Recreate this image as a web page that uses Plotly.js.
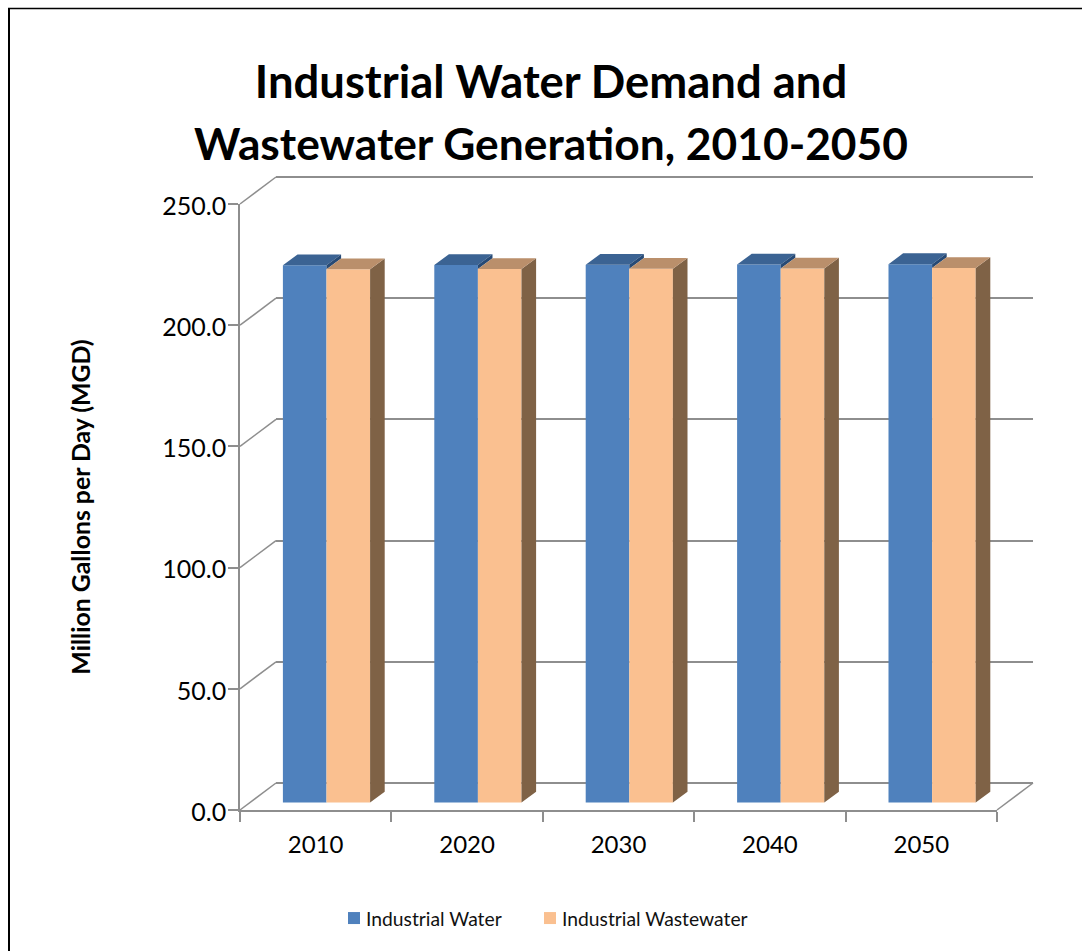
<!DOCTYPE html>
<html>
<head>
<meta charset="utf-8">
<script src="https://cdn.plot.ly/plotly-3.0.1.min.js"></script>
<style>
html,body{margin:0;padding:0;background:#fff;overflow:hidden}
text{font-variant-ligatures:none}
.legendtext,.legend2text{transform:translateX(-8px)}
</style>
</head>
<body>
<div id="chart" style="width:1082px;height:951px"></div>
<script>
// ---- data ----
const years = ["2010", "2020", "2030", "2040", "2050"];
const waterValues = [221.6, 221.7, 221.8, 221.9, 222.1];
const wastewaterValues = [220.0, 220.1, 220.2, 220.3, 220.5];
const valueTicks = [0, 50, 100, 150, 200, 250];

// ---- page geometry (pixels) ----
const W = 1082, H = 951;
const front = {l: 240, r: 997, t: 204, b: 810};
const back = {l: 276, r: 1033, t: 177, b: 783};
const pxPerCat = (front.r - front.l) / years.length;
const pxPerVal = (front.b - front.t) / 250;
const catPerPx = p => p / pxPerCat;
const valPerPx = p => p / pxPerVal;

const barWidth = catPerPx(43.6);
const groupShift = catPerPx(10.8);
const floorBase = valPerPx(7.5);
const depthX = catPerPx(14.6);
const depthY = valPerPx(10.8);
const wallX = catPerPx(back.l - front.l);
const wallY = valPerPx(front.b - back.b);
const edgePad = 4; // px of invisible room around the helper axes

const centers = years.map((_, i) => i + 0.5);
const groupX = centers.map(c => c + groupShift);
const gridColor = "#8E8E8E";
const font = "Lato, Carlito, Calibri, sans-serif";

function polys(build) {
  const xs = [], ys = [];
  years.forEach((_, i) => {
    build(i).forEach(p => { xs.push(p[0]); ys.push(p[1]); });
    xs.push(null); ys.push(null);
  });
  return {x: xs, y: ys};
}
function fillTrace(pts, color) {
  return {type: "scatter", mode: "lines", x: pts.x, y: pts.y, xaxis: "x2", yaxis: "y2",
    fill: "toself", fillcolor: color, line: {width: 0, color: color},
    hoverinfo: "skip", showlegend: false};
}

const waterTop = polys(i => {
  const x0 = groupX[i] - barWidth, x1 = groupX[i], y = waterValues[i] + floorBase;
  return [[x0, y], [x1, y], [x1 + depthX, y + depthY], [x0 + depthX, y + depthY], [x0, y]];
});
const waterSide = polys(i => {
  const x = groupX[i], y = waterValues[i] + floorBase, z = wastewaterValues[i] + floorBase;
  return [[x, y], [x + depthX, y + depthY], [x + depthX, z + depthY], [x, z], [x, y]];
});
const wasteTop = polys(i => {
  const x0 = groupX[i], x1 = groupX[i] + barWidth, y = wastewaterValues[i] + floorBase;
  return [[x0, y], [x1, y], [x1 + depthX, y + depthY], [x0 + depthX, y + depthY], [x0, y]];
});
const wasteSide = polys(i => {
  const x = groupX[i] + barWidth, y = wastewaterValues[i] + floorBase;
  return [[x, y], [x + depthX, y + depthY], [x + depthX, floorBase + depthY], [x, floorBase], [x, y]];
});

// left wall diagonals and right floor edge
const diagX = [], diagY = [];
valueTicks.forEach(v => { diagX.push(0, wallX, null); diagY.push(v, v + wallY, null); });
diagX.push(years.length, years.length + wallX);
diagY.push(0, wallY);

const traces = [
  {type: "scatter", mode: "none", x: [0], y: [0], xaxis: "x", yaxis: "y", hoverinfo: "skip", showlegend: false},
  {type: "scatter", mode: "lines", x: diagX, y: diagY, xaxis: "x3", yaxis: "y3",
    line: {color: gridColor, width: 1.5}, hoverinfo: "skip", showlegend: false},
  {type: "bar", name: "Industrial Water", x: groupX, y: waterValues, base: years.map(() => floorBase),
    width: barWidth, offset: -barWidth, xaxis: "x2", yaxis: "y2", marker: {color: "#4F81BD", line: {width: 0}}, legend: "legend"},
  {type: "bar", name: "Industrial Wastewater", x: groupX, y: wastewaterValues, base: years.map(() => floorBase),
    width: barWidth, offset: 0, xaxis: "x2", yaxis: "y2", marker: {color: "#FAC090", line: {width: 0}}, legend: "legend2"},
  fillTrace(waterTop, "#3B6393"),
  fillTrace(waterSide, "#274A75"),
  fillTrace(wasteSide, "#7F6246"),
  fillTrace(wasteTop, "#BA8F6B")
];

const legendFont = {family: font, size: 19.3, color: "#111"};
const layout = {
  width: W, height: H,
  margin: {l: 0, r: 0, t: 0, b: 0, pad: 0},
  paper_bgcolor: "#fff", plot_bgcolor: "rgba(0,0,0,0)",
  font: {family: font, color: "#000"},
  barmode: "overlay",
  title: {
    text: "<b><span style=\"font-size:45.4px\">Industrial Water Demand and</span><br><span style=\"font-size:44.3px\">Wastewater Generation, 2010-2050</span></b>",
    font: {family: font, size: 47.5, color: "#000"},
    x: 551 / W, xanchor: "center", xref: "paper",
    y: 1 - 98 / H, yanchor: "bottom", yref: "container"
  },
  // back wall: native gridlines
  xaxis: {domain: [back.l / W, back.r / W], range: [0, 5], anchor: "y",
    showgrid: false, zeroline: false, showline: false, ticks: "", showticklabels: false, fixedrange: true},
  yaxis: {domain: [1 - (back.b + edgePad) / H, 1 - (back.t - edgePad) / H],
    range: [-edgePad / pxPerVal, 250 + edgePad / pxPerVal], anchor: "x",
    tickmode: "array", tickvals: valueTicks, showticklabels: false, ticks: "",
    showgrid: true, gridcolor: gridColor, gridwidth: 1.5, zeroline: false, showline: false, fixedrange: true},
  // front plane: axes and bars
  xaxis2: {domain: [front.l / W, front.r / W], range: [0, years.length], anchor: "y2",
    tickmode: "array", tickvals: centers, ticktext: years, ticks: "",
    tickfont: {family: font, size: 24, color: "#000"}, ticklabelstandoff: 12,
    showgrid: false, zeroline: false, showline: true, linecolor: gridColor, linewidth: 2,
    minor: {tickmode: "array", tickvals: [0, 1, 2, 3, 4, 5], ticks: "outside", ticklen: 10, tickcolor: gridColor, tickwidth: 1.5, showgrid: false},
    fixedrange: true},
  yaxis2: {domain: [1 - front.b / H, 1 - front.t / H], range: [0, 250], anchor: "x2",
    tickmode: "array", tickvals: valueTicks, ticktext: valueTicks.map(v => v.toFixed(1)),
    ticks: "outside", ticklen: 10, tickcolor: gridColor, tickwidth: 1.5,
    tickfont: {family: font, size: 25, color: "#000"}, ticklabelstandoff: -3, ticklabelshift: 2,
    title: {text: "<b>Million Gallons per Day (MGD)</b>", font: {family: font, size: 24.8, color: "#000"}, standoff: 65},
    showgrid: false, zeroline: false, showline: true, linecolor: gridColor, linewidth: 1.5, fixedrange: true},
  // helper plane spanning front and back corners, for the wall and floor edges
  xaxis3: {domain: [(front.l - edgePad) / W, (back.r + edgePad) / W],
    range: [-edgePad / pxPerCat, years.length + wallX + edgePad / pxPerCat], anchor: "y3",
    visible: false, fixedrange: true},
  yaxis3: {domain: [1 - (front.b + edgePad) / H, 1 - (back.t - edgePad) / H],
    range: [-edgePad / pxPerVal, 250 + wallY + edgePad / pxPerVal], anchor: "x3",
    visible: false, fixedrange: true},
  showlegend: true,
  legend: {orientation: "h", x: 334 / W, xanchor: "left", y: 1 - 899 / H, yanchor: "top",
    font: legendFont, bgcolor: "rgba(0,0,0,0)", itemclick: false, itemdoubleclick: false},
  legend2: {orientation: "h", x: 530 / W, xanchor: "left", y: 1 - 899 / H, yanchor: "top",
    font: legendFont, bgcolor: "rgba(0,0,0,0)", itemclick: false, itemdoubleclick: false},
  shapes: [
    {type: "line", xref: "paper", yref: "paper", x0: 9 / W, x1: 9 / W, y0: 0, y1: 1 - 8 / H, line: {color: "#000", width: 2}},
    {type: "line", xref: "paper", yref: "paper", x0: 8 / W, x1: 1, y0: 1 - 8.5 / H, y1: 1 - 8.5 / H, line: {color: "#000", width: 1.3}}
  ]
};

Plotly.newPlot("chart", traces, layout, {displayModeBar: false, responsive: false});
</script>
</body>
</html>
